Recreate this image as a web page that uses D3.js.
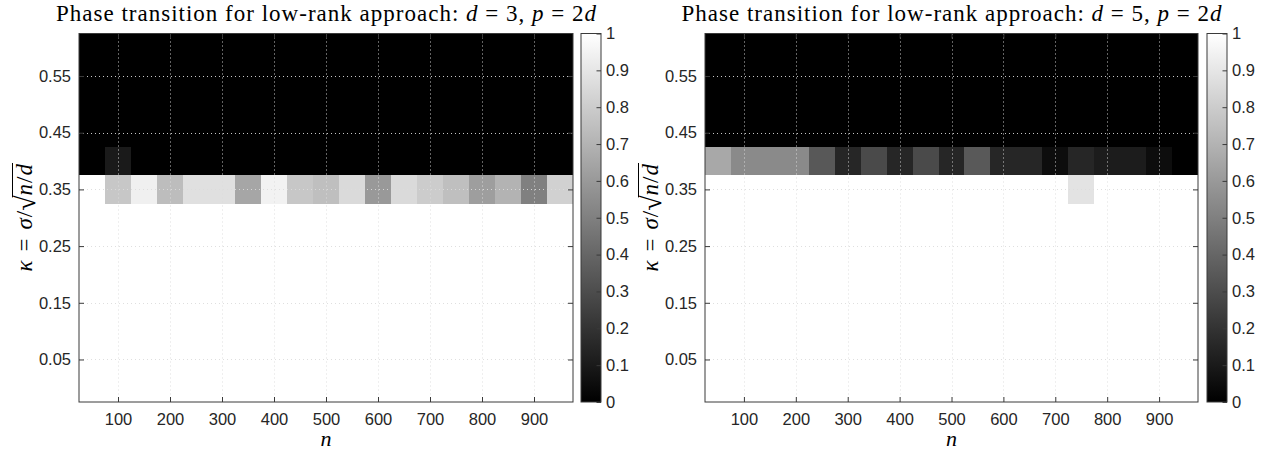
<!DOCTYPE html>
<html>
<head>
<meta charset="utf-8">
<script src="https://cdn.jsdelivr.net/npm/d3@7"></script>
<style>
  html, body { margin: 0; padding: 0; background: #fff; }
  svg { display: block; }
</style>
</head>
<body>
<svg id="chart" width="1268" height="450"></svg>
<script>
// ---------------- DATA ----------------
const nValues = [50, 100, 150, 200, 250, 300, 350, 400, 450, 500, 550, 600, 650, 700, 750, 800, 850, 900, 950];
const kappaValues = [0, 0.05, 0.1, 0.15, 0.2, 0.25, 0.3, 0.35, 0.4, 0.45, 0.5, 0.55, 0.6];
const xTickValues = [100, 200, 300, 400, 500, 600, 700, 800, 900];
const yTickValues = [0.05, 0.15, 0.25, 0.35, 0.45, 0.55];
const yTickLabels = ["0.05", "0.15", "0.25", "0.35", "0.45", "0.55"];
const colorbarTicks = [0, 0.1, 0.2, 0.3, 0.4, 0.5, 0.6, 0.7, 0.8, 0.9, 1];
const colorbarLabels = ["0", "0.1", "0.2", "0.3", "0.4", "0.5", "0.6", "0.7", "0.8", "0.9", "1"];

// success-rate rows (one value per n), ordered by kappa
const allSuccess = [1, 1, 1, 1, 1, 1, 1, 1, 1, 1, 1, 1, 1, 1, 1, 1, 1, 1, 1];
const allFailure = [0, 0, 0, 0, 0, 0, 0, 0, 0, 0, 0, 0, 0, 0, 0, 0, 0, 0, 0];

// d = 3
const leftKappa035 = [1, 0.78, 0.94, 0.74, 0.88, 0.88, 0.65, 0.95, 0.78, 0.75, 0.855, 0.6, 0.855, 0.8, 0.75, 0.62, 0.7, 0.5, 0.82];
const leftKappa040 = [0, 0.1, 0, 0, 0, 0, 0, 0, 0, 0, 0, 0, 0, 0, 0, 0, 0, 0, 0];
// d = 5
const rightKappa035 = [1, 1, 1, 1, 1, 1, 1, 1, 1, 1, 1, 1, 1, 1, 0.89, 1, 1, 1, 1];
const rightKappa040 = [0.66, 0.54, 0.54, 0.54, 0.345, 0.15, 0.29, 0.15, 0.29, 0.15, 0.35, 0.15, 0.15, 0.05, 0.15, 0.11, 0.11, 0.05, 0];

const leftRows = [allSuccess, allSuccess, allSuccess, allSuccess, allSuccess, allSuccess, allSuccess,
                  leftKappa035, leftKappa040, allFailure, allFailure, allFailure, allFailure];
const rightRows = [allSuccess, allSuccess, allSuccess, allSuccess, allSuccess, allSuccess, allSuccess,
                   rightKappa035, rightKappa040, allFailure, allFailure, allFailure, allFailure];

const dValues = ["3", "5"];

// ---------------- DRAW ----------------
const svg = d3.select("#chart");
const SANS = "'Liberation Sans', Arial, Helvetica, sans-serif";
const SERIF = "'Liberation Serif', 'Times New Roman', serif";
const AXIS = "#3a3a3a";

const color = d3.scaleLinear().domain([0, 1]).range(["#000000", "#ffffff"]);

const defs = svg.append("defs");
const grad = defs.append("linearGradient").attr("id", "cbgrad")
  .attr("x1", 0).attr("y1", 1).attr("x2", 0).attr("y2", 0);
colorbarTicks.forEach(t => grad.append("stop").attr("offset", t).attr("stop-color", color(t)));

const panels = [
  { left: 79, right: 573, top: 33.5, bottom: 402, cbLeft: 581, cbRight: 601, rows: leftRows, d: dValues[0] },
  { left: 705, right: 1198, top: 33.5, bottom: 402, cbLeft: 1207, cbRight: 1227, rows: rightRows, d: dValues[1] }
];

panels.forEach((p, pi) => {
  const g = svg.append("g");
  const x = d3.scaleLinear().domain([25, 975]).range([p.left, p.right]);
  const y = d3.scaleLinear().domain([-0.025, 0.625]).range([p.bottom, p.top]);

  // cells
  const cells = [];
  kappaValues.forEach((k, ri) => nValues.forEach((n, ci) => cells.push({ n, k, v: p.rows[ri][ci] })));
  g.append("g").attr("shape-rendering", "crispEdges")
    .selectAll("rect").data(cells).join("rect")
    .attr("x", d => x(d.n - 25))
    .attr("width", d => x(d.n + 25) - x(d.n - 25))
    .attr("y", d => y(d.k + 0.025))
    .attr("height", d => y(d.k - 0.025) - y(d.k + 0.025))
    .attr("fill", d => color(d.v));

  // grid
  const grid = g.append("g").attr("stroke", "rgb(220,220,220)").attr("stroke-opacity", 0.9)
    .attr("stroke-width", 1).attr("stroke-dasharray", "1,3");
  xTickValues.forEach(t => grid.append("line")
    .attr("x1", Math.round(x(t)) + 0.5).attr("x2", Math.round(x(t)) + 0.5)
    .attr("y1", p.top).attr("y2", p.bottom));
  yTickValues.forEach(t => grid.append("line")
    .attr("y1", Math.round(y(t)) + 0.5).attr("y2", Math.round(y(t)) + 0.5)
    .attr("x1", p.left).attr("x2", p.right));

  // axes
  const styleAxis = sel => {
    sel.select(".domain").remove();
    sel.selectAll(".tick line").attr("stroke", AXIS);
    sel.selectAll(".tick text").attr("fill", "#262626").attr("font-family", SANS).attr("font-size", "16.5px");
  };
  g.append("g").attr("transform", `translate(0,${p.bottom})`)
    .call(d3.axisBottom(x).tickValues(xTickValues).tickSize(-5).tickPadding(11).tickFormat(d3.format("d")))
    .call(styleAxis);
  g.append("g").attr("transform", `translate(0,${p.top})`)
    .call(d3.axisTop(x).tickValues(xTickValues).tickSize(-5).tickFormat(""))
    .call(styleAxis);
  g.append("g").attr("transform", `translate(${p.left},0)`)
    .call(d3.axisLeft(y).tickValues(yTickValues).tickSize(-5).tickPadding(8).tickFormat((d, i) => yTickLabels[i]))
    .call(styleAxis);
  g.append("g").attr("transform", `translate(${p.right},0)`)
    .call(d3.axisRight(y).tickValues(yTickValues).tickSize(-5).tickFormat(""))
    .call(styleAxis);

  // box
  g.append("rect").attr("x", p.left).attr("y", p.top)
    .attr("width", p.right - p.left).attr("height", p.bottom - p.top)
    .attr("fill", "none").attr("stroke", AXIS).attr("stroke-width", 1);

  // title
  const title = g.append("text").attr("x", (p.left + p.right) / 2).attr("y", 21)
    .attr("text-anchor", "middle").attr("font-family", SERIF).attr("font-size", "23px").attr("fill", "#000")
    .attr("textLength", 540).attr("lengthAdjust", "spacing");
  title.append("tspan").text("Phase transition for low-rank approach: ");
  title.append("tspan").attr("font-style", "italic").text("d");
  title.append("tspan").text(" = " + p.d + ", ");
  title.append("tspan").attr("font-style", "italic").text("p");
  title.append("tspan").text(" = 2");
  title.append("tspan").attr("font-style", "italic").text("d");

  // x label
  g.append("text").attr("x", (p.left + p.right) / 2).attr("y", 446)
    .attr("text-anchor", "middle").attr("font-family", SERIF).attr("font-size", "22px")
    .attr("font-style", "italic").text("n");

  // y label
  const yl = g.append("g").attr("transform", `translate(${p.left - 47},${(p.top + p.bottom) / 2}) rotate(-90)`);
  const ylt = yl.append("text").attr("text-anchor", "middle").attr("font-family", SERIF)
    .attr("font-size", "23px").attr("fill", "#000");
  ylt.append("tspan").attr("font-style", "italic").text("\u03BA");
  ylt.append("tspan").attr("dx", 9).text("=");
  ylt.append("tspan").attr("dx", 9).attr("font-style", "italic").text("\u03C3");
  ylt.append("tspan").attr("dx", 1).text("/");
  ylt.append("tspan").attr("font-size", "28px").attr("dy", 3).text("\u221A");
  ylt.append("tspan").attr("font-style", "italic").attr("dy", -3).text("n");
  ylt.append("tspan").attr("dx", 1).text("/");
  ylt.append("tspan").attr("dx", 1).attr("font-style", "italic").text("d");
  const full = ylt.text();
  const idxRad = full.indexOf("\u221A");
  const eRad = ylt.node().getExtentOfChar(idxRad);
  const eEnd = ylt.node().getExtentOfChar(full.length - 1);
  yl.append("line")
    .attr("x1", eRad.x + eRad.width - 2).attr("x2", eEnd.x + eEnd.width + 1)
    .attr("y1", eRad.y + 2.5).attr("y2", eRad.y + 2.5)
    .attr("stroke", "#000").attr("stroke-width", 1);

  // colorbar
  const cy = d3.scaleLinear().domain([0, 1]).range([p.bottom, p.top]);
  const cb = svg.append("g");
  cb.append("rect").attr("x", p.cbLeft).attr("y", p.top)
    .attr("width", p.cbRight - p.cbLeft).attr("height", p.bottom - p.top)
    .attr("fill", "url(#cbgrad)").attr("stroke", AXIS).attr("stroke-width", 1);
  cb.append("g").attr("transform", `translate(${p.cbRight},0)`)
    .call(d3.axisRight(cy).tickValues(colorbarTicks).tickSize(-4.5).tickPadding(5).tickFormat((d, i) => colorbarLabels[i]))
    .call(styleAxis);
});
</script>
</body>
</html>
